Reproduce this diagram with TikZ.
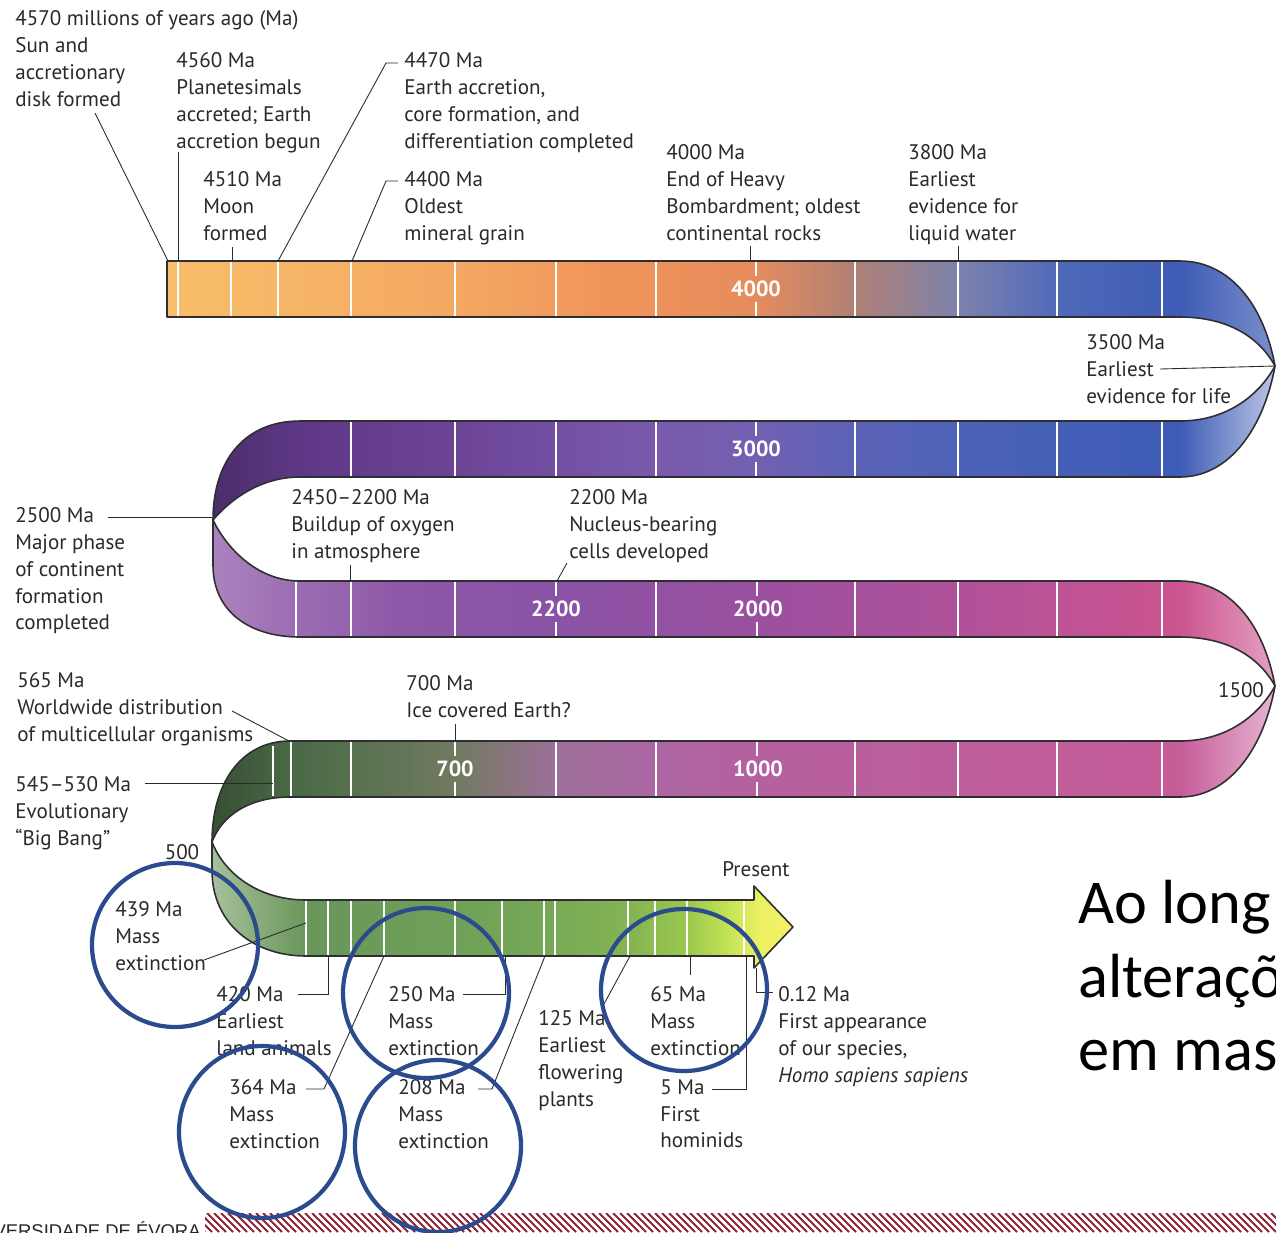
\documentclass[tikz,border=0pt]{standalone}
\usepackage{fontspec}
\setmainfont{PT Sans}
\newfontfamily\bigfont{Carlito}
\newfontfamily\unifont{Liberation Sans}

\definecolor{txt}{HTML}{2A2A2A}
\definecolor{edgec}{HTML}{2F2F33}
\definecolor{ringblue}{HTML}{2C4A8E}
\definecolor{hatchred}{HTML}{8C2436}

\definecolor{bAa}{HTML}{F8BE6A}
\definecolor{bAb}{HTML}{F4A862}
\definecolor{bAc}{HTML}{F0955A}
\definecolor{bAd}{HTML}{E68C5C}
\definecolor{bAe}{HTML}{AE8076}
\definecolor{bAf}{HTML}{7D82AC}
\definecolor{bAg}{HTML}{4F69B9}
\definecolor{bAh}{HTML}{3E5CB6}
\pgfdeclarehorizontalshading{bandone}{100bp}{color(0bp)=(bAa); color(25bp)=(bAa); color(39.2bp)=(bAb); color(46.4bp)=(bAc); color(54bp)=(bAd); color(59bp)=(bAe); color(64bp)=(bAf); color(68.9bp)=(bAg); color(75bp)=(bAh); color(100bp)=(bAh)}

\definecolor{bBa}{HTML}{5E3886}
\definecolor{bBb}{HTML}{6C4496}
\definecolor{bBc}{HTML}{7A5AAC}
\definecolor{bBd}{HTML}{7260B2}
\definecolor{bBe}{HTML}{5C62B6}
\definecolor{bBf}{HTML}{4C62B8}
\definecolor{bBg}{HTML}{3D5CB6}
\pgfdeclarehorizontalshading{bandtwo}{100bp}{color(0bp)=(bBa); color(25bp)=(bBa); color(33.8bp)=(bBb); color(45.2bp)=(bBc); color(50.9bp)=(bBd); color(56.5bp)=(bBe); color(62.4bp)=(bBf); color(75bp)=(bBg); color(100bp)=(bBg)}

\definecolor{bCa}{HTML}{9B6CB2}
\definecolor{bCb}{HTML}{8E58A8}
\definecolor{bCc}{HTML}{8A52A5}
\definecolor{bCd}{HTML}{9A509F}
\definecolor{bCe}{HTML}{B0519A}
\definecolor{bCf}{HTML}{CC548F}
\pgfdeclarehorizontalshading{bandthree}{100bp}{color(0bp)=(bCa); color(25bp)=(bCa); color(30.7bp)=(bCb); color(39.5bp)=(bCc); color(51bp)=(bCd); color(62.4bp)=(bCe); color(75bp)=(bCf); color(100bp)=(bCf)}

\definecolor{bDa}{HTML}{4A6846}
\definecolor{bDb}{HTML}{56714E}
\definecolor{bDc}{HTML}{717A60}
\definecolor{bDd}{HTML}{9C7098}
\definecolor{bDe}{HTML}{AC66A4}
\definecolor{bDf}{HTML}{B6609F}
\definecolor{bDg}{HTML}{C65C98}
\pgfdeclarehorizontalshading{bandfour}{100bp}{color(0bp)=(bDa); color(25bp)=(bDa); color(28.4bp)=(bDb); color(34.3bp)=(bDc); color(39.9bp)=(bDd); color(45.6bp)=(bDe); color(51.2bp)=(bDf); color(75bp)=(bDg); color(100bp)=(bDg)}

\definecolor{bEa}{HTML}{6A965A}
\definecolor{bEb}{HTML}{6FA058}
\definecolor{bEc}{HTML}{77A856}
\definecolor{bEd}{HTML}{84B452}
\definecolor{bEe}{HTML}{9CC94E}
\definecolor{bEf}{HTML}{C6E456}
\definecolor{bEg}{HTML}{ECF062}
\definecolor{bEh}{HTML}{F4F268}
\pgfdeclarehorizontalshading{bandfive}{100bp}{color(0bp)=(bEa); color(25bp)=(bEa); color(40.3bp)=(bEb); color(49.5bp)=(bEc); color(58.3bp)=(bEd); color(64.4bp)=(bEe); color(68.5bp)=(bEf); color(71.6bp)=(bEg); color(75bp)=(bEh); color(100bp)=(bEh)}

\begin{document}
\begin{tikzpicture}[x=0.02cm,y=-0.02cm,
  lbl/.style={anchor=north west, inner sep=0pt, align=left, text=txt, font=\fontsize{12}{15.3}\selectfont},
  lead/.style={draw=txt, line width=0.5pt},
  tickw/.style={draw=white, line width=0.9pt},
  blab/.style={text=white, inner sep=0pt, font=\fontsize{12.5}{13}\selectfont\bfseries},
  edgeline/.style={draw=edgec, line width=0.9pt, line join=round},
  ring/.style={draw=ringblue, line width=2.4pt},
  bigtxt/.style={anchor=base west, inner sep=0pt, font=\bigfont\fontsize{35.5}{44}\selectfont}]
\clip (0,0) rectangle (1276,1232);
\fill[white] (0,0) rectangle (1276,1232);

% ---------- turns ----------
\shade[left color=bAh, right color=bAg!75!white] (1180,261) .. controls (1230,261) and (1264,305) .. (1275,366) .. controls (1258,335) and (1225,317) .. (1180,317) -- cycle;
\shade[left color=bBg, right color=bBg!35!white] (1275,366) .. controls (1264,427) and (1230,477) .. (1180,477) -- (1180,421) .. controls (1225,421) and (1258,397) .. (1275,366) -- cycle;
\shade[left color=bBa!80!black, right color=bBa] (300,421) .. controls (245,421) and (213,460) .. (213,520) .. controls (230,500) and (260,477) .. (300,477) -- cycle;
\shade[left color=bCa!85!white, right color=bCa] (213,520) -- (213,565) .. controls (213,612) and (250,637) .. (300,637) -- (300,581) .. controls (255,581) and (225,545) .. (213,520) -- cycle;
\shade[left color=bCf, right color=bCf!55!white] (1180,581) .. controls (1230,581) and (1264,625) .. (1275,686) .. controls (1258,655) and (1225,637) .. (1180,637) -- cycle;
\shade[left color=bDg, right color=bDg!45!white] (1275,686) .. controls (1264,747) and (1230,797) .. (1180,797) -- (1180,741) .. controls (1225,741) and (1258,717) .. (1275,686) -- cycle;
\shade[left color=bDa!75!black, right color=bDa] (290,741) .. controls (240,741) and (212,785) .. (212,842) .. controls (222,815) and (250,797) .. (290,797) -- cycle;
\shade[left color=bEa!60!white, right color=bEa] (212,842) -- (212,870) .. controls (212,925) and (255,956) .. (306,956) -- (306,900) .. controls (260,900) and (225,875) .. (212,842) -- cycle;

% ---------- straight bands ----------
\shade[shading=bandone] (167,261) rectangle (1181,317);
\shade[shading=bandtwo] (299,421) rectangle (1181,477);
\shade[shading=bandthree] (299,581) rectangle (1181,637);
\shade[shading=bandfour] (289,741) rectangle (1181,797);
\shade[shading=bandfive] (305,900) -- (754,900) -- (754,886) -- (793,927) -- (754,968) -- (754,956) -- (305,956) -- cycle;

% ---------- ticks ----------
\foreach \x in {178,231,278,351,455,556,656,855,958,1057,1162} \draw[tickw] (\x,262) -- (\x,316);
\foreach \x in {351,455,556,656,855,958,1057,1162} \draw[tickw] (\x,422) -- (\x,476);
\foreach \x in {296,351,455,656,855,958,1057,1162} \draw[tickw] (\x,582) -- (\x,636);
\foreach \x in {291,351,556,656,855,958,1057,1162} \draw[tickw] (\x,742) -- (\x,796);
\draw[tickw] (273,746) -- (273,796);
\foreach \x in {306,328,351,384,455,502,544,555,628,655,687,744} \draw[tickw] (\x,901) -- (\x,955);
% broken ticks at labels
\foreach \x/\y in {756/261,756/421,556/581,757/581,455/741,757/741} {
  \draw[tickw] (\x,\y+1) -- (\x,\y+15);
  \draw[tickw] (\x,\y+41) -- (\x,\y+55);
}

% ---------- outlines ----------
\draw[edgeline] (1180,317) -- (167,317) -- (167,261) -- (1180,261) .. controls (1230,261) and (1264,305) .. (1275,366) .. controls (1264,427) and (1230,477) .. (1180,477) -- (300,477) .. controls (260,477) and (230,500) .. (213,520) -- (213,565) .. controls (213,612) and (250,637) .. (300,637) -- (1180,637) .. controls (1225,637) and (1258,655) .. (1275,686) .. controls (1258,717) and (1225,741) .. (1180,741) -- (290,741) .. controls (240,741) and (212,785) .. (212,842) -- (212,870) .. controls (212,925) and (255,956) .. (306,956) -- (754,956) -- (754,968) -- (793,927) -- (754,886) -- (754,900);
\draw[edgeline] (1180,317) .. controls (1225,317) and (1258,335) .. (1275,366) .. controls (1258,397) and (1225,421) .. (1180,421) -- (300,421) .. controls (245,421) and (213,460) .. (213,520) .. controls (225,545) and (255,581) .. (300,581) -- (1180,581) .. controls (1230,581) and (1264,625) .. (1275,686) .. controls (1264,747) and (1230,797) .. (1180,797) -- (290,797) .. controls (250,797) and (222,815) .. (212,842) .. controls (225,875) and (260,900) .. (306,900) -- (754,900);

% ---------- band labels ----------
\node[blab] (n4000) at (756,289) {4000};
\node[blab] (n3000) at (756,449) {3000};
\node[blab] (n2200) at (556,609) {2200};
\node[blab] (n2000) at (758,609) {2000};
\node[blab] (n700) at (455,769) {700};
\node[blab] (n1000) at (758,769) {1000};
\node[text=txt, inner sep=0pt, font=\fontsize{12}{13}\selectfont] (n1500) at (1241,690) {1500};
\node[text=txt, inner sep=0pt, font=\fontsize{12}{13}\selectfont] (n500) at (182,852) {500};
\node[text=txt, inner sep=0pt, font=\fontsize{12}{13}\selectfont] (npres) at (756,869) {Present};

% ---------- text blocks ----------
\node[lbl] (t4570) at (15,10) {4570 millions of years ago (Ma)\\Sun and\\accretionary\\disk formed};
\node[lbl] (t4560) at (176,52) {4560 Ma\\Planetesimals\\accreted; Earth\\accretion begun};
\node[lbl] (t4510) at (203,171) {4510 Ma\\Moon\\formed};
\node[lbl] (t4470) at (404,52) {4470 Ma\\Earth accretion,\\core formation, and\\differentiation completed};
\node[lbl] (t4400) at (404,171) {4400 Ma\\Oldest\\mineral grain};
\node[lbl] (t4000) at (666,144) {4000 Ma\\End of Heavy\\Bombardment; oldest\\continental rocks};
\node[lbl] (t3800) at (908,144) {3800 Ma\\Earliest\\evidence for\\liquid water};
\node[lbl] (t3500) at (1086,334) {3500 Ma\\Earliest\\evidence for life};
\node[lbl] (t2450) at (291,489) {2450–2200 Ma\\Buildup of oxygen\\in atmosphere};
\node[lbl] (t2200) at (569,489) {2200 Ma\\Nucleus-bearing\\cells developed};
\node[lbl] (t2500) at (15,507) {2500 Ma\\Major phase\\of continent\\formation\\completed};
\node[lbl] (t565) at (17,672) {565 Ma\\Worldwide distribution\\of multicellular organisms};
\node[lbl] (t700) at (406,675) {700 Ma\\Ice covered Earth?};
\node[lbl] (t545) at (15,776) {545–530 Ma\\Evolutionary\\“Big Bang”};
\node[lbl] (t439) at (115,901) {439 Ma\\Mass\\extinction};
\node[lbl] (t420) at (216,986) {420 Ma\\Earliest\\land animals};
\node[lbl] (t364) at (229,1079) {364 Ma\\Mass\\extinction};
\node[lbl] (t250) at (388,986) {250 Ma\\Mass\\extinction};
\node[lbl] (t208) at (398,1079) {208 Ma\\Mass\\extinction};
\node[lbl] (t125) at (538,1010) {125 Ma\\Earliest\\flowering\\plants};
\node[lbl] (t65) at (650,986) {65 Ma\\Mass\\extinction};
\node[lbl] (t5) at (660,1079) {5 Ma\\First\\hominids};
\node[lbl] (t012) at (778,986) {0.12 Ma\\First appearance\\of our species,\\\textit{Homo sapiens sapiens}};

% ---------- leader coordinates ----------
\coordinate (a1) at (95,113);   \coordinate (b1) at (168,261);
\coordinate (a2) at (178,152);  \coordinate (b2) at (178,261);
\coordinate (a3) at (232,247);  \coordinate (b3) at (232,261);
\coordinate (a4) at (398,63);   \coordinate (m4) at (386,63);   \coordinate (b4) at (278,261);
\coordinate (a5) at (398,181);  \coordinate (m5) at (386,181);  \coordinate (b5) at (352,261);
\coordinate (a6) at (750,246);  \coordinate (b6) at (750,261);
\coordinate (a7) at (958,246);  \coordinate (b7) at (958,261);
\coordinate (a8) at (1160,369); \coordinate (b8) at (1275,366);
\coordinate (a9) at (108,517);  \coordinate (b9) at (212,517);
\coordinate (a10) at (350,565); \coordinate (b10) at (350,581);
\coordinate (a11) at (567,563); \coordinate (b11) at (557,581);
\coordinate (a12) at (232,711); \coordinate (b12) at (289,741);
\coordinate (a13) at (455,724); \coordinate (b13) at (455,741);
\coordinate (a14) at (145,783); \coordinate (b14) at (273,783);
\coordinate (a15) at (204,960); \coordinate (b15) at (306,923);
\coordinate (a16) at (298,994); \coordinate (m16) at (328,994); \coordinate (b16) at (328,956);
\coordinate (a17) at (306,1089); \coordinate (m17) at (324,1089); \coordinate (b17) at (384,956);
\coordinate (a18) at (463,994); \coordinate (m18) at (505,994); \coordinate (b18) at (505,956);
\coordinate (a19) at (478,1089); \coordinate (m19) at (492,1089); \coordinate (b19) at (545,956);
\coordinate (a20) at (604,1004); \coordinate (b20) at (630,956);
\coordinate (a21) at (690,975); \coordinate (b21) at (690,956);
\coordinate (a22) at (712,1089); \coordinate (m22) at (746,1089); \coordinate (b22) at (746,956);
\coordinate (a23) at (773,992); \coordinate (m23) at (756,992); \coordinate (b23) at (756,968);

\draw[lead] (a1) -- (b1);
\draw[lead] (a2) -- (b2);
\draw[lead] (a3) -- (b3);
\draw[lead] (a4) -- (m4) -- (b4);
\draw[lead] (a5) -- (m5) -- (b5);
\draw[lead] (a6) -- (b6);
\draw[lead] (a7) -- (b7);
\draw[lead] (a8) -- (b8);
\draw[lead] (a9) -- (b9);
\draw[lead] (a10) -- (b10);
\draw[lead] (a11) -- (b11);
\draw[lead] (a12) -- (b12);
\draw[lead] (a13) -- (b13);
\draw[lead] (a14) -- (b14);
\draw[lead] (a15) -- (b15);
\draw[lead] (a16) -- (m16) -- (b16);
\draw[lead] (a17) -- (m17) -- (b17);
\draw[lead] (a18) -- (m18) -- (b18);
\draw[lead] (a19) -- (m19) -- (b19);
\draw[lead] (a20) -- (b20);
\draw[lead] (a21) -- (b21);
\draw[lead] (a22) -- (m22) -- (b22);
\draw[lead] (a23) -- (m23) -- (b23);

% ---------- slide text ----------
\node[bigtxt] (big1) at (1078,923) {Ao long};
\node[bigtxt] (big2) at (1078,997) {alteraçõ};
\node[bigtxt] (big3) at (1078,1070) {em mas};
\node[anchor=base east, inner sep=0pt, text=black!85, font=\unifont\fontsize{10.5}{12}\selectfont] (uni) at (201,1237) {UNIVERSIDADE DE ÉVORA};

% ---------- hatch ----------
\begin{scope}
\clip (205,1213) rectangle (1276,1232);
\foreach \i in {0,...,158} \draw[hatchred, line width=1.1pt] ({186+7*\i},1213) -- ({205+7*\i},1232);
\end{scope}

% ---------- rings ----------
\draw[ring] (175,945) ellipse [x radius=83, y radius=82];
\draw[ring] (426,993) ellipse [x radius=83, y radius=85];
\draw[ring] (684,990) ellipse [x radius=83, y radius=81];
\draw[ring] (262,1132) ellipse [x radius=83, y radius=86];
\draw[ring] (438,1146) ellipse [x radius=83, y radius=86];
\end{tikzpicture}
\end{document}
